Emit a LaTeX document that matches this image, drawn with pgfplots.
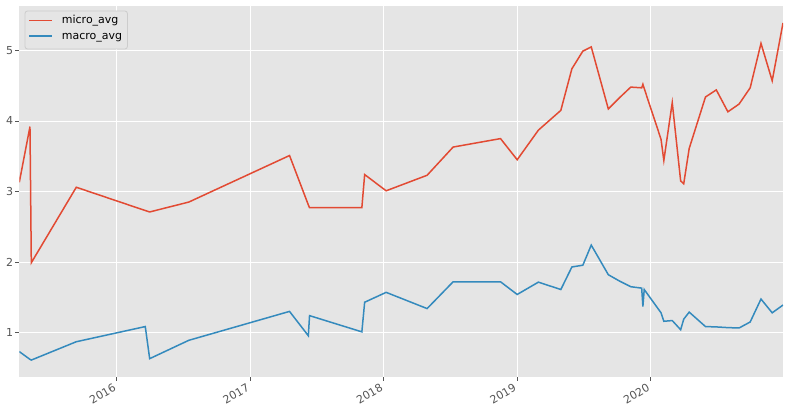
\documentclass[border=0pt]{standalone}
\usepackage{fontspec}
\setmainfont{DejaVu Sans}
\usepackage{pgfplots}
\usepackage{pgfplotstable}
\pgfplotsset{compat=1.18}
\definecolor{ggred}{HTML}{E24A33}
\definecolor{ggblue}{HTML}{348ABD}
\definecolor{ggbg}{HTML}{E5E5E5}
\definecolor{ggtext}{HTML}{555555}
\definecolor{ggborder}{HTML}{CCCCCC}

\pgfplotstableread{
date micro macro
2015.270 3.13 0.73
2015.350 3.92 0.62
2015.360 1.99 0.61
2015.697 3.06 0.87
2016.214 2.73 1.085
2016.247 2.71 0.63
2016.540 2.85 0.89
2017.295 3.51 1.30
2017.436 2.81 0.955
2017.445 2.77 1.24
2017.837 2.77 1.01
2017.858 3.24 1.43
2018.019 3.01 1.57
2018.326 3.23 1.34
2018.521 3.63 1.72
2018.876 3.75 1.72
2019.001 3.45 1.54
2019.160 3.87 1.715
2019.328 4.15 1.61
2019.411 4.74 1.93
2019.493 4.99 1.955
2019.556 5.05 2.24
2019.684 4.17 1.82
2019.768 4.33 1.73
2019.852 4.48 1.65
2019.934 4.47 1.63
2019.943 4.52 1.37
2019.953 4.46 1.61
2020.079 3.74 1.28
2020.100 3.44 1.16
2020.163 4.26 1.17
2020.226 3.15 1.04
2020.249 3.11 1.19
2020.290 3.61 1.29
2020.412 4.34 1.085
2020.493 4.44 1.08
2020.580 4.13 1.07
2020.664 4.24 1.065
2020.747 4.47 1.15
2020.828 5.10 1.475
2020.912 4.57 1.28
2020.993 5.39 1.39
}\datatable

\tikzset{yrlab/.style={rotate=30, anchor=north east, inner sep=0pt, text=ggtext, font=\fontsize{11}{13}\selectfont},
  legtext/.style={anchor=base west, inner sep=0pt, font=\fontsize{11}{13}\selectfont, text=black}}

\begin{document}
\begin{tikzpicture}
\begin{axis}[
  name=ax,
  scale only axis,
  width=763.7pt, height=371pt,
  xmin=2015.270, xmax=2020.993,
  ymin=0.37, ymax=5.63,
  axis background/.style={fill=ggbg},
  axis line style={draw=none},
  grid=major,
  major grid style={white, line width=0.9pt},
  xtick={2016,2017,2018,2019,2020},
  xticklabels={,,,,},
  ytick={1,2,3,4,5},
  tick align=outside,
  tick pos=left,
  major tick length=4pt,
  tick style={ggtext, line width=0.8pt},
  every tick label/.append style={font=\fontsize{11}{13}\selectfont, text=ggtext},
  /pgf/number format/assume math mode=true,
  yticklabel style={inner sep=0pt, xshift=-2pt},
]
\addplot[color=ggred, line width=1.5pt] table[x=date, y=micro] {\datatable};
\addplot[color=ggblue, line width=1.5pt] table[x=date, y=macro] {\datatable};
\end{axis}
% year labels
\node[yrlab] at ([xshift=93.41pt,yshift=-5.7pt]ax.south west) {2016};
\node[yrlab] at ([xshift=226.86pt,yshift=-5.7pt]ax.south west) {2017};
\node[yrlab] at ([xshift=360.30pt,yshift=-5.7pt]ax.south west) {2018};
\node[yrlab] at ([xshift=493.75pt,yshift=-5.7pt]ax.south west) {2019};
\node[yrlab] at ([xshift=627.19pt,yshift=-5.7pt]ax.south west) {2020};
% legend
\draw[draw=ggborder, fill=ggbg, line width=0.8pt, rounded corners=2.5pt]
  ([xshift=5.7pt,yshift=-5pt]ax.north west) rectangle ([xshift=108.1pt,yshift=-43pt]ax.north west);
\draw[ggred, line width=1.5pt] ([xshift=9.7pt,yshift=-14.3pt]ax.north west) -- ([xshift=32.7pt,yshift=-14.3pt]ax.north west);
\node[legtext] at ([xshift=42.4pt,yshift=-17.9pt]ax.north west) {micro\_avg};
\draw[ggblue, line width=1.5pt] ([xshift=9.7pt,yshift=-30pt]ax.north west) -- ([xshift=32.7pt,yshift=-30pt]ax.north west);
\node[legtext] at ([xshift=42.4pt,yshift=-33.6pt]ax.north west) {macro\_avg};
\pgfresetboundingbox
\path[use as bounding box] ([xshift=-19.3pt,yshift=-37pt]ax.south west) rectangle ([xshift=6pt,yshift=6pt]ax.north east);
\end{tikzpicture}
\end{document}
